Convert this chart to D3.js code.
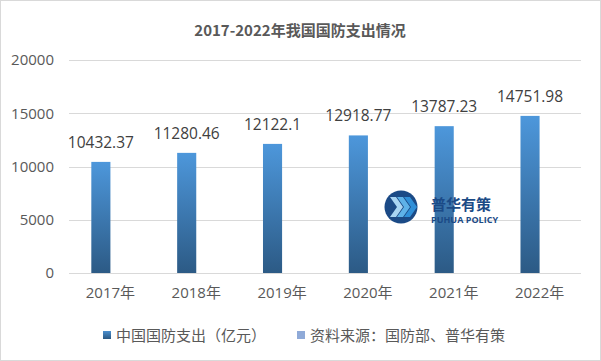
<!DOCTYPE html>
<html><head><meta charset="utf-8">
<script src="https://cdn.jsdelivr.net/npm/d3@7"></script>
<style>body{margin:0;background:#fff}svg{display:block;font-family:"Microsoft YaHei","Noto Sans CJK SC",sans-serif}</style>
</head><body><svg id="c" width="601" height="361"></svg>
<script>
const categories = ["2017年","2018年","2019年","2020年","2021年","2022年"];
const spending = [10432.37, 11280.46, 12122.1, 12918.77, 13787.23, 14751.98];
const sourceSeries = [null, null, null, null, null, null];
const seriesNames = ["中国国防支出（亿元）", "资料来源：国防部、普华有策"];
const yTicks = [0, 5000, 10000, 15000, 20000];
const title = "2017-2022年我国国防支出情况";

const svg = d3.select("#c");
const defs = svg.append("defs");
const g = defs.append("linearGradient").attr("id","bg").attr("x1",0).attr("y1",0).attr("x2",0).attr("y2",1);
g.append("stop").attr("offset","0%").attr("stop-color","#4d97db");
g.append("stop").attr("offset","100%").attr("stop-color","#2c5a85");
const lg = defs.append("linearGradient").attr("id","lg").attr("x1",0).attr("y1",0).attr("x2",0).attr("y2",1);
lg.append("stop").attr("offset","0%").attr("stop-color","#4b8fcf");
lg.append("stop").attr("offset","100%").attr("stop-color","#2b5882");

svg.append("rect").attr("x",0.5).attr("y",0.5).attr("width",600).attr("height",360).attr("fill","#fff").attr("stroke","#d9d9d9");

const pL = 69, pR = 581, pT = 60, pB = 273;
const y = d3.scaleLinear().domain([0, 20000]).range([pB, pT]);
const x0 = d3.scaleBand().domain(categories).range([pL, pR]).paddingInner(0.555).paddingOuter(0.26);
const x1 = d3.scaleBand().domain([0,1]).range([0, x0.bandwidth()]);

svg.append("text").attr("x",300).attr("y",36).attr("text-anchor","middle")
  .attr("font-size",15).attr("font-weight","bold").attr("fill","#595959").text(title);

const grid = svg.append("g");
grid.selectAll("line").data(yTicks).join("line")
  .attr("x1",pL).attr("x2",pR).attr("y1",d=>Math.round(y(d))+0.5).attr("y2",d=>Math.round(y(d))+0.5)
  .attr("stroke","#d9d9d9");

const yAxis = svg.append("g").attr("transform",`translate(${pL},0)`)
  .call(d3.axisLeft(y).tickValues(yTicks).tickSize(0).tickPadding(15).tickFormat(d3.format("d")));
yAxis.select(".domain").remove();
yAxis.selectAll("text").attr("font-size",15).attr("fill","#595959").attr("font-family","'Open Sans','Noto Sans',sans-serif");

const xAxis = svg.append("g").attr("transform",`translate(0,${pB})`)
  .call(d3.axisBottom(x0).tickSize(0).tickPadding(14));
xAxis.select(".domain").remove();
xAxis.selectAll("text").attr("font-size",15).attr("fill","#595959").attr("font-family","'Open Sans','Noto Sans CJK SC',sans-serif");

const bars = svg.append("g");
bars.selectAll("rect").data(spending).join("rect")
  .attr("x",(d,i)=>x0(categories[i])+x1(0))
  .attr("width",x1.bandwidth())
  .attr("y",d=>y(d)).attr("height",d=>pB-y(d))
  .attr("fill","url(#bg)");

svg.append("g").selectAll("text").data(spending).join("text")
  .attr("x",(d,i)=>x0(categories[i])+x1(0)+x1.bandwidth()/2)
  .attr("y",d=>y(d)-14)
  .attr("text-anchor","middle").attr("font-size",15.5).attr("fill","#404040")
  .attr("font-family","'Open Sans','Noto Sans',sans-serif")
  .text(d=>String(d));

// watermark
const wm = svg.append("g");
wm.append("circle").attr("cx",401).attr("cy",207).attr("r",16.5).attr("fill","#1b4a86");
const chev = (dx, col) => wm.append("path")
  .attr("d",`M${393+dx},197 L${399+dx},197 L${406+dx},207 L${399+dx},217 L${393+dx},217 L${400+dx},207 Z`)
  .attr("fill",col);
chev(-3,"#a8d4f2"); chev(4,"#5fb2e8"); chev(11,"#2f8fd8");
wm.append("text").attr("x",431).attr("y",210).attr("font-size",15).attr("font-weight","bold")
  .attr("fill","#1b4a86").attr("font-family","'Noto Sans CJK SC',sans-serif").text("普华有策");
wm.append("text").attr("x",431).attr("y",223).attr("font-size",9).attr("font-weight","bold")
  .attr("fill","#1b4a86").attr("font-family","'Open Sans',sans-serif").attr("textLength",67).text("PUHUA POLICY");

// legend
const legend = svg.append("g");
const lx = [103, 297];
const lcol = ["url(#lg)", "#8faad8"];
seriesNames.forEach((n,i)=>{
  legend.append("rect").attr("x",lx[i]).attr("y",331).attr("width",8).attr("height",8).attr("fill",lcol[i]);
  legend.append("text").attr("x",lx[i]+13).attr("y",341).attr("font-size",15).attr("fill","#595959")
    .attr("font-family","'Noto Sans CJK SC',sans-serif").text(n);
});
</script></body></html>
